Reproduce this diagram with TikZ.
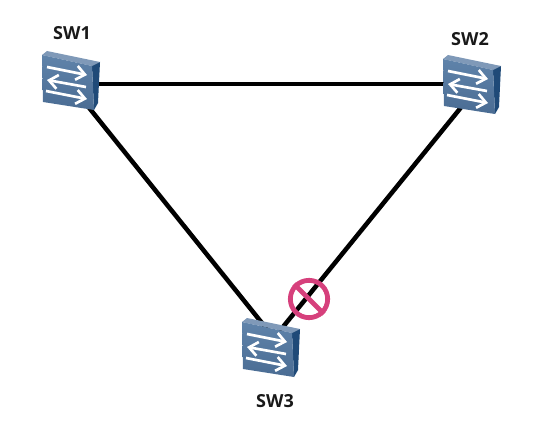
\documentclass[tikz,border=0pt]{standalone}
\usepackage{fontspec}
\setmainfont{Open Sans}
\usetikzlibrary{arrows.meta}
\definecolor{swfront}{HTML}{5F83AA}
\definecolor{swfrontb}{HTML}{4A6C93}
\definecolor{swtop}{HTML}{7F99B8}
\definecolor{swside}{HTML}{1F4A78}
\definecolor{blockpink}{HTML}{D6407C}
\tikzset{
  link/.style={draw=black,line width=3.4pt},
  anchorpt/.style={inner sep=0pt,minimum size=0pt},
  swlabel/.style={inner sep=0pt,font=\fontsize{13.5}{15}\selectfont\bfseries,text=black!90},
  whitearrow/.style={draw=white,line width=2pt,-{Straight Barb[length=6.5pt,width=10.5pt,line width=2pt]}},
  pics/switchicon/.style={code={
    \fill[swtop] (-28,-25) -- (-23,-29) -- (30,-18) -- (22,-14) -- cycle;
    \fill[swside] (22,-14) -- (30,-18) -- (28,23) -- (24,30) -- cycle;
    \shade[top color=swfront,bottom color=swfrontb] (-28,-25) -- (22,-14) -- (24,30) -- (-27,22) -- cycle;
    \draw[whitearrow] (-23,-13) -- (17,-5);
    \draw[whitearrow] (16,7) -- (-23,0);
    \draw[whitearrow] (-24,11) -- (17,19);
  }}
}
\begin{document}
\begin{tikzpicture}[x=0.75pt,y=-0.75pt]
\useasboundingbox (0,0) rectangle (549,428);
\node[anchorpt] (sw1) at (70,84) {};
\node[anchorpt] (sw2) at (480,84) {};
\node[anchorpt] (sw3) at (274,338) {};
\draw[link] (sw1.center) -- (sw2.center);
\draw[link] (sw1.center) -- (sw3.center);
\draw[link] (sw2.center) -- (sw3.center);
\pic at (70,80) {switchicon};
\pic at (471,84) {switchicon};
\pic at (270,347) {switchicon};
\node[swlabel] (l1) at (72,33) {SW1};
\node[swlabel] (l2) at (470,39) {SW2};
\node[swlabel] (l3) at (275,401) {SW3};
\node[draw=blockpink,line width=3.6pt,circle,minimum size=28pt,inner sep=0pt] (block) at (309,299) {};
\draw[blockpink,line width=3.6pt] (block.135) -- (block.-45);
\end{tikzpicture}
\end{document}
